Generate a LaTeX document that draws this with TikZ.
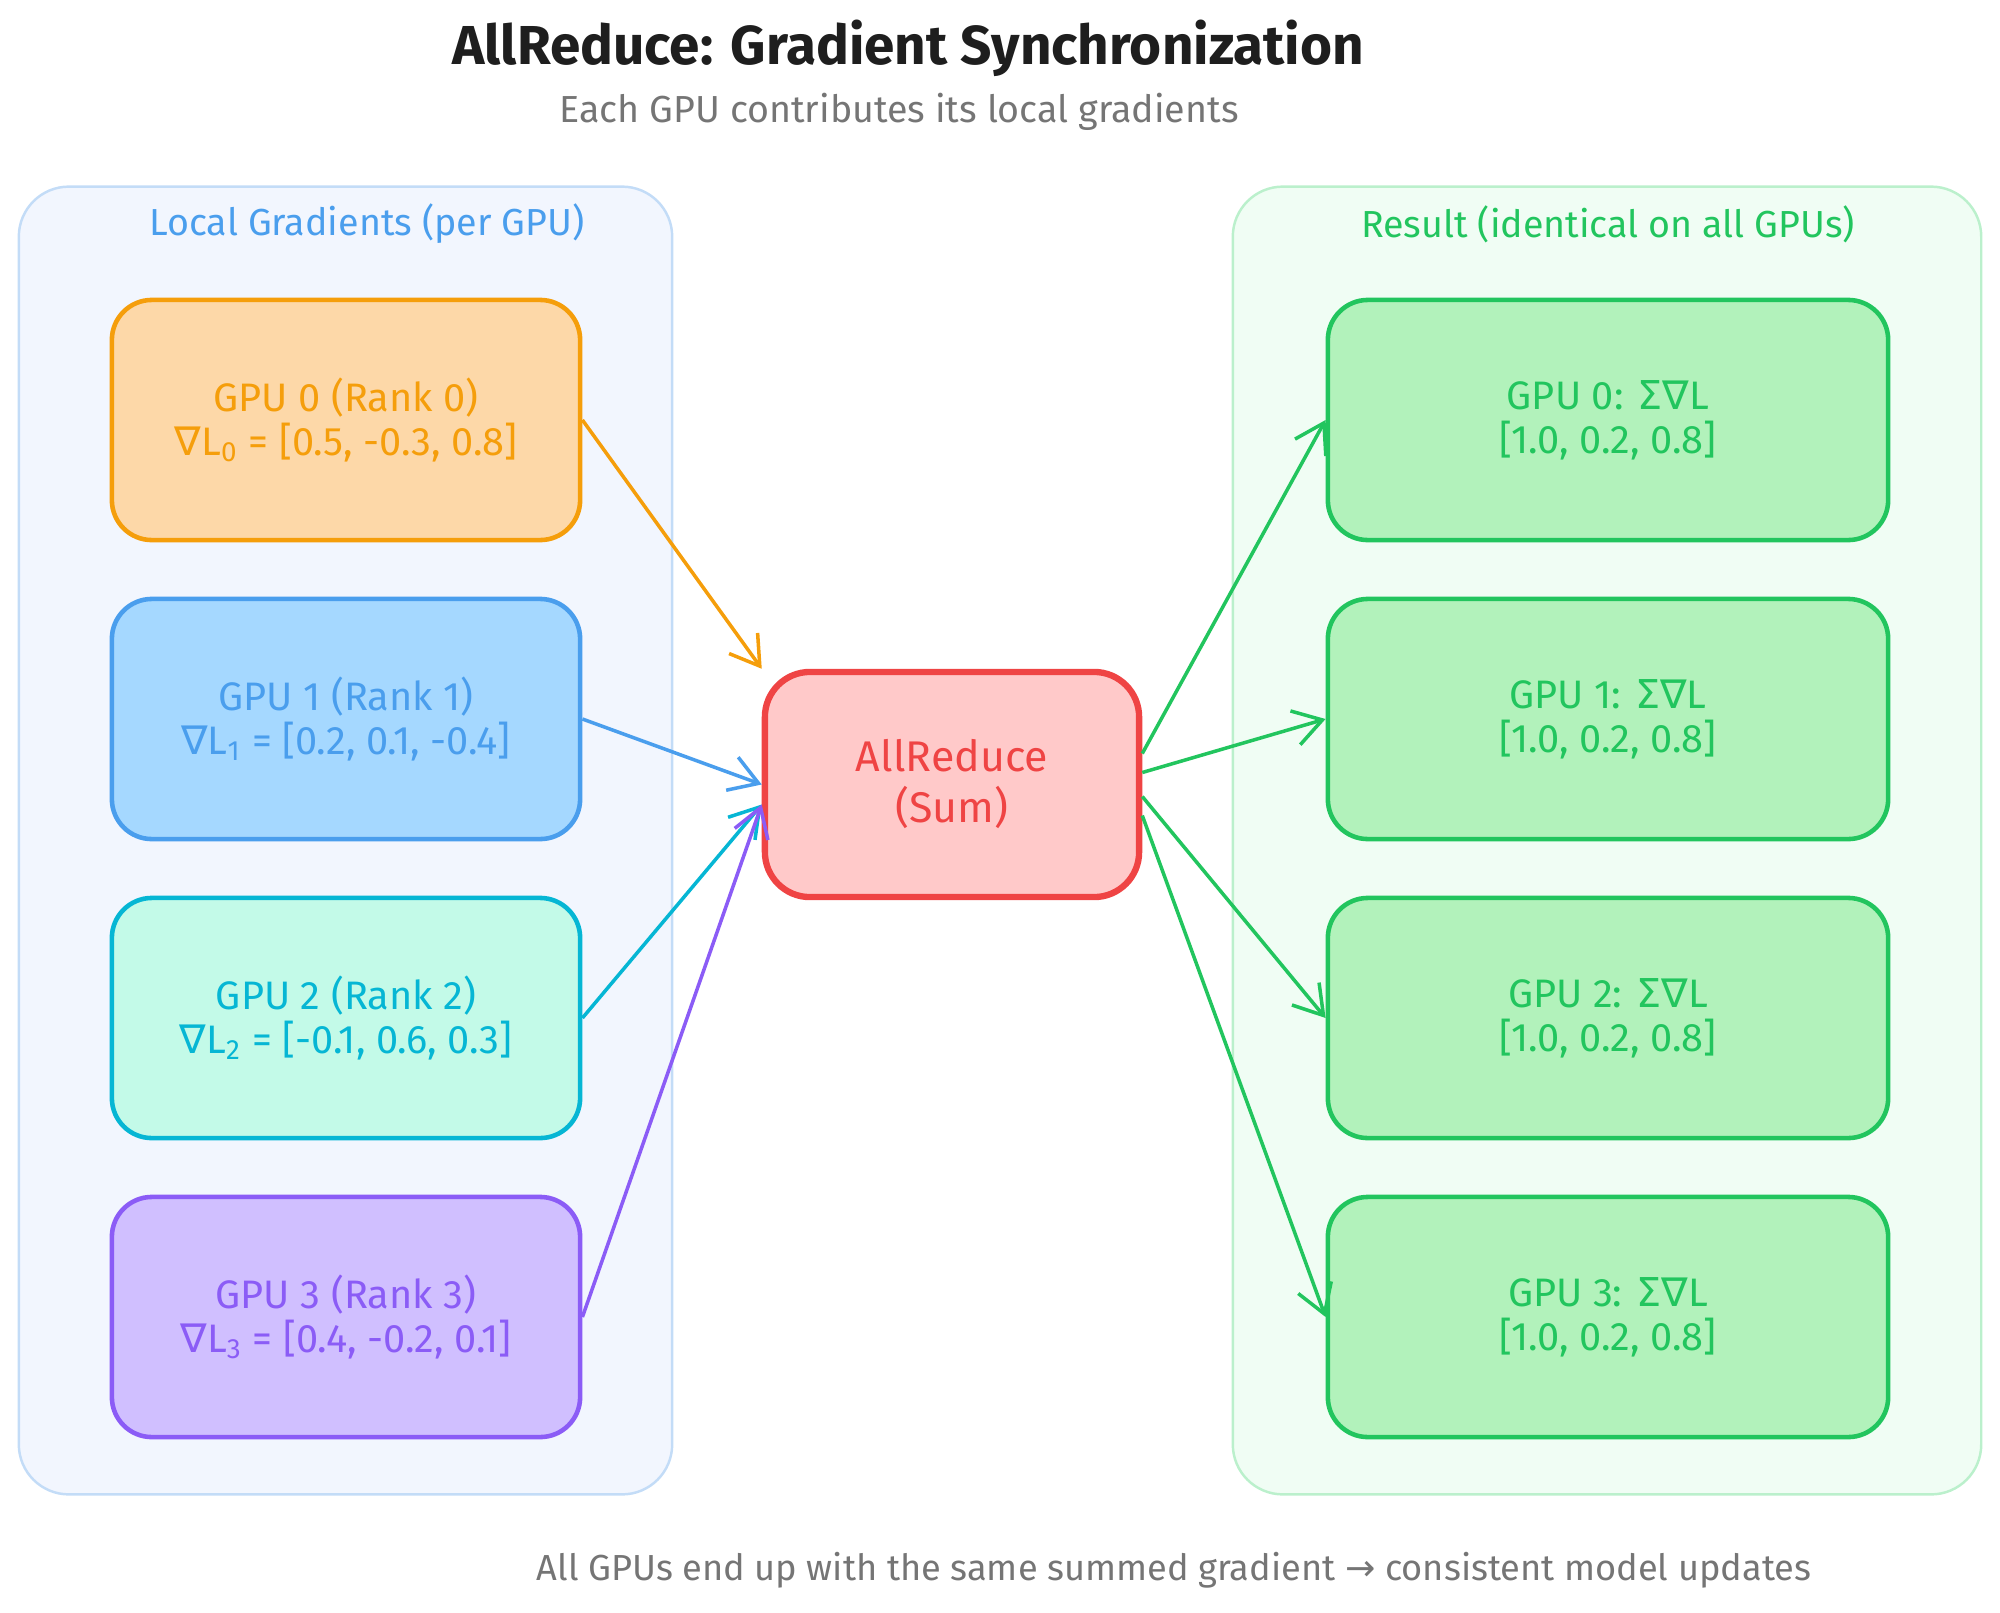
\documentclass[tikz,border=0pt]{standalone}
\usepackage{fontspec}
\setmainfont{Fira Sans}
\newfontfamily\symf{DejaVu Sans}
\usetikzlibrary{calc,arrows.meta}
\definecolor{orS}{HTML}{F59E0B}\definecolor{orF}{HTML}{FDD8A8}
\definecolor{blS}{HTML}{4A9EED}\definecolor{blF}{HTML}{A5D8FF}
\definecolor{cyS}{HTML}{06B6D4}\definecolor{cyF}{HTML}{C3FAE8}
\definecolor{puS}{HTML}{8B5CF6}\definecolor{puF}{HTML}{D0BFFF}
\definecolor{rdS}{HTML}{EF4444}\definecolor{rdF}{HTML}{FFC9C9}
\definecolor{grS}{HTML}{22C55E}\definecolor{grF}{HTML}{B2F2BB}
\definecolor{lcF}{HTML}{F2F6FE}\definecolor{lcS}{HTML}{C3DCF7}
\definecolor{rcF}{HTML}{F0FDF4}\definecolor{rcS}{HTML}{BBF0CC}
\definecolor{titleC}{HTML}{1E1E1E}\definecolor{grayC}{HTML}{757575}
\tikzset{
  x=0.01cm, y=-0.01cm,
  container/.style={rectangle, rounded corners=0.5cm, line width=0.7pt, inner sep=0pt},
  gbox/.style={rectangle, rounded corners=0.4cm, line width=1.3pt, minimum width=4.68cm, minimum height=2.4cm, align=center, font=\fontsize{11.3}{12.5}\selectfont, inner sep=0pt},
  rbox/.style={gbox, minimum width=5.6cm, draw=grS, fill=grF, text=grS},
  cbox/.style={rectangle, rounded corners=0.45cm, line width=1.8pt, minimum width=3.74cm, minimum height=2.25cm, align=center, font=\fontsize{12.2}{14.5}\selectfont, draw=rdS, fill=rdF, text=rdS},
  arr/.style={-{Straight Barb[length=8pt,width=10pt]}, line width=1pt},
  ctitle/.style={font=\fontsize{10.7}{12}\selectfont}
}
\begin{document}
\begin{tikzpicture}
\useasboundingbox (0,0) rectangle (2000,1612);
% title
\node[text=titleC, font=\fontsize{15.6}{19}\selectfont\bfseries] (title) at (908,48) {AllReduce: Gradient Synchronization};
\node[text=grayC, font=\fontsize{10.7}{12}\selectfont] (sub) at (899,112) {Each GPU contributes its local gradients};
% containers
\node[container, draw=lcS, fill=lcF, minimum width=6.53cm, minimum height=13.07cm] (lc) at (345.5,840.5) {};
\node[container, draw=rcS, fill=rcF, minimum width=7.48cm, minimum height=13.07cm] (rc) at (1607,840.5) {};
\node[ctitle, text=blS] (lct) at (367,224) {Local Gradients (per GPU)};
\node[ctitle, text=grS] (rct) at (1608,224) {Result (identical on all GPUs)};
% left nodes
\node[gbox, draw=orS, fill=orF, text=orS] (g0) at (346,420) {GPU 0 (Rank 0)\\{\symf ∇}L\textsubscript{0} = [0.5, -0.3, 0.8]};
\node[gbox, draw=blS, fill=blF, text=blS] (g1) at (346,719) {GPU 1 (Rank 1)\\{\symf ∇}L\textsubscript{1} = [0.2, 0.1, -0.4]};
\node[gbox, draw=cyS, fill=cyF, text=cyS] (g2) at (346,1018) {GPU 2 (Rank 2)\\{\symf ∇}L\textsubscript{2} = [-0.1, 0.6, 0.3]};
\node[gbox, draw=puS, fill=puF, text=puS] (g3) at (346,1317) {GPU 3 (Rank 3)\\{\symf ∇}L\textsubscript{3} = [0.4, -0.2, 0.1]};
% center
\node[cbox] (c) at (952,784.5) {AllReduce\\(Sum)};
% right nodes
\node[rbox] (r0) at (1608,420) {GPU 0: {\symf Σ∇}L\\{}[1.0, 0.2, 0.8]};
\node[rbox] (r1) at (1608,719) {GPU 1: {\symf Σ∇}L\\{}[1.0, 0.2, 0.8]};
\node[rbox] (r2) at (1608,1018) {GPU 2: {\symf Σ∇}L\\{}[1.0, 0.2, 0.8]};
\node[rbox] (r3) at (1608,1317) {GPU 3: {\symf Σ∇}L\\{}[1.0, 0.2, 0.8]};
% arrows in
\draw[arr, orS] (g0.east) -- (c.north west);
\draw[arr, blS] (g1.east) -- (c.west);
\draw[arr, cyS] (g2.east) -- ($(c.west)+(0,20)$);
\draw[arr, puS] (g3.east) -- ($(c.west)+(0,20)$);
% arrows out
\draw[arr, grS] ($(c.east)+(0,-31)$) -- (r0.west);
\draw[arr, grS] ($(c.east)+(0,-12)$) -- (r1.west);
\draw[arr, grS] ($(c.east)+(0,12)$) -- (r2.west);
\draw[arr, grS] ($(c.east)+(0,31)$) -- (r3.west);
% footer
\node[text=grayC, font=\fontsize{10.3}{12}\selectfont] (foot) at (1174,1570) {All GPUs end up with the same summed gradient {\symf →} consistent model updates};
\end{tikzpicture}
\end{document}
